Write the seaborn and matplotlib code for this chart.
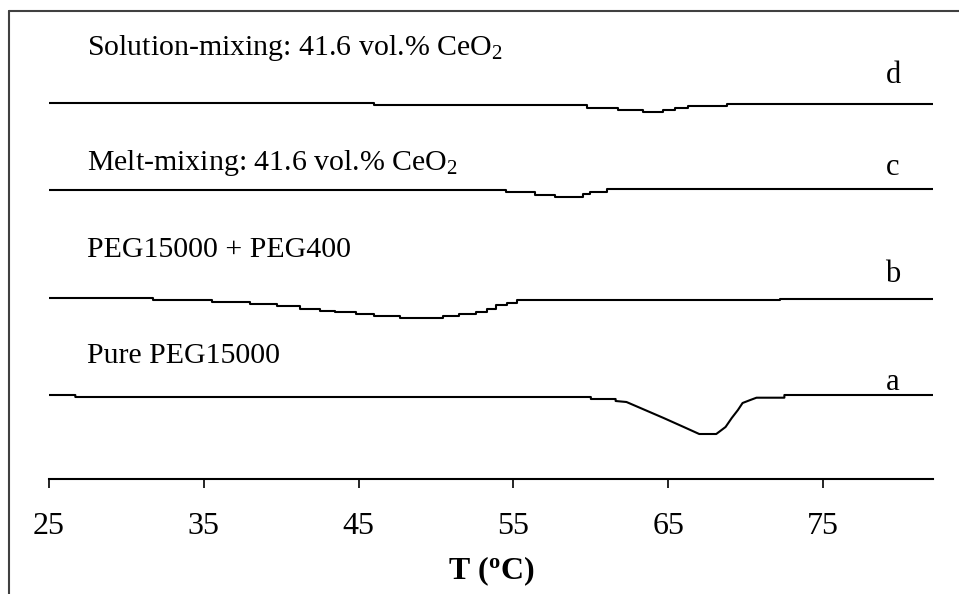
import matplotlib
matplotlib.use("Agg")
import matplotlib.pyplot as plt
import seaborn as sns
import pandas as pd
from matplotlib.lines import Line2D

# DSC traces (arbitrary heat-flow units, endotherm down), relative to each baseline
T_a = [25.0, 26.7, 26.7, 60.0, 60.0, 61.6, 61.6, 62.3, 63.8, 64.7, 66.0, 67.0,
       68.1, 68.7, 69.1, 69.5, 69.8, 70.3, 70.7, 72.5, 72.5, 82.1]
hf_a = [2, 2, 0, 0, -2, -2, -4, -5, -15, -21, -30, -37,
        -37, -30, -21, -13, -6, -3, -0.7, -0.7, 2, 2]

T_b = [25.0, 31.7, 35.5, 38.0, 39.7, 41.2, 42.5, 43.5, 44.8, 46.0, 47.7, 50.45,
       51.5, 52.6, 53.3, 53.9, 54.6, 55.2, 72.2, 82.1]
hf_b = [0, -2, -4.3, -6, -8, -10.7, -12.7, -14.3, -16, -18.3, -20, -17.7,
        -15.7, -13.7, -10.5, -7, -4.5, -2, -0.7, -0.7]

T_c = [25.0, 54.5, 56.4, 57.7, 59.5, 59.95, 61.05, 82.1]
hf_c = [-1, -3.3, -6, -8, -5, -2.7, 0, 0]

T_d = [25.0, 46.0, 59.75, 61.76, 63.37, 64.66, 65.44, 66.28, 68.8, 82.1]
hf_d = [1, -1, -3.7, -6, -8.3, -6, -4.3, -1.7, 0, 0]

sample_labels = ["Pure PEG15000", "PEG15000 + PEG400",
                 r"Melt-mixing: 41.6 vol.% CeO$_\mathrm{2}$",
                 r"Solution-mixing: 41.6 vol.% CeO$_\mathrm{2}$"]
curve_letters = ["a", "b", "c", "d"]
x_ticks = [25, 35, 45, 55, 65, 75]

sns.set_style("white")
plt.rcParams["font.family"] = ["Liberation Serif", "DejaVu Serif"]
plt.rcParams["mathtext.fontset"] = "custom"
plt.rcParams["mathtext.rm"] = "Liberation Serif"
plt.rcParams["mathtext.it"] = "Liberation Serif:italic"
plt.rcParams["mathtext.bf"] = "Liberation Serif:bold"
plt.rcParams["text.color"] = "black"
plt.rcParams["axes.labelcolor"] = "black"
plt.rcParams["xtick.color"] = "black"
plt.rcParams["xtick.labelcolor"] = "black"

fig = plt.figure(figsize=(9.59, 5.94), dpi=100)
ax = fig.add_axes([49 / 959, 115 / 594, 884 / 959, 468 / 594])

# vertical stacking of the traces
offsets = [82, 181, 290, 375]
traces = [(T_a, hf_a, "default"), (T_b, hf_b, "steps-post"),
          (T_c, hf_c, "steps-post"), (T_d, hf_d, "steps-post")]
for (T, hf, ds), off in zip(traces, offsets):
    df = pd.DataFrame({"T": T, "hf": [v + off for v in hf]})
    sns.lineplot(data=df, x="T", y="hf", ax=ax, color="black", linewidth=1.5,
                 estimator=None, sort=False, drawstyle=ds)

label_y = [116, 222, 309, 424]
letter_y = [89, 197, 304, 396]
for lab, ly in zip(sample_labels, label_y):
    ax.text(27.45, ly, lab, fontsize=21.5, va="baseline", ha="left", color="black")
for let, ly in zip(curve_letters, letter_y):
    ax.text(79.52, ly, let, fontsize=22, va="baseline", ha="center", color="black")

ax.set_xlim(25, 82.1)
ax.set_ylim(0, 468)
ax.set_xticks(x_ticks)
ax.set_xticklabels([str(t) for t in x_ticks], fontsize=23)
ax.set_yticks([])
ax.set_ylabel("")
ax.set_xlabel(r"T ($^{\mathbf{o}}$C)", fontsize=23, fontweight="bold", labelpad=10)
for side in ["left", "right", "top"]:
    ax.spines[side].set_visible(False)
ax.spines["bottom"].set_color("black")
ax.spines["bottom"].set_linewidth(1.5)
ax.tick_params(axis="x", direction="out", length=6.5, width=1.2, color="black",
               pad=17, bottom=True)
ax.patch.set_alpha(0)

# open frame around the figure (left and top edges)
fig.add_artist(Line2D([9 / 959, 9 / 959], [0, 1 - 11 / 594], transform=fig.transFigure,
                      color="#404040", linewidth=1.5))
fig.add_artist(Line2D([9 / 959, 1], [1 - 11 / 594, 1 - 11 / 594], transform=fig.transFigure,
                      color="#404040", linewidth=1.5))

fig.savefig("out.png", dpi=100)
